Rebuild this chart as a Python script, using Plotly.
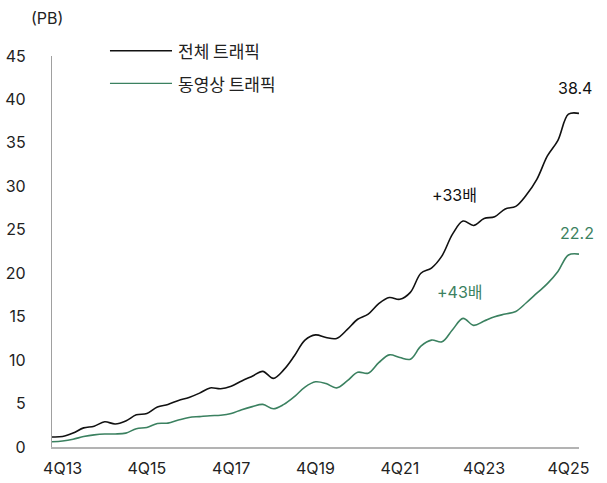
import plotly.graph_objects as go

# quarters 3Q13 .. 1Q26
quarters = ["3Q13", "4Q13",
            "1Q14", "2Q14", "3Q14", "4Q14",
            "1Q15", "2Q15", "3Q15", "4Q15",
            "1Q16", "2Q16", "3Q16", "4Q16",
            "1Q17", "2Q17", "3Q17", "4Q17",
            "1Q18", "2Q18", "3Q18", "4Q18",
            "1Q19", "2Q19", "3Q19", "4Q19",
            "1Q20", "2Q20", "3Q20", "4Q20",
            "1Q21", "2Q21", "3Q21", "4Q21",
            "1Q22", "2Q22", "3Q22", "4Q22",
            "1Q23", "2Q23", "3Q23", "4Q23",
            "1Q24", "2Q24", "3Q24", "4Q24",
            "1Q25", "2Q25", "3Q25", "4Q25",
            "1Q26"]

total_traffic = [1.15, 1.2, 1.6, 2.2, 2.4, 2.9, 2.65, 3.0, 3.7, 3.85,
                 4.6, 4.9, 5.35, 5.7, 6.2, 6.8, 6.7, 7.0, 7.6, 8.15,
                 8.7, 7.9, 8.9, 10.5, 12.3, 12.9, 12.6, 12.5, 13.5, 14.7,
                 15.3, 16.5, 17.2, 17.0, 17.8, 20.0, 20.6, 22.0, 24.5, 26.0,
                 25.5, 26.3, 26.5, 27.4, 27.7, 29.0, 30.8, 33.5, 35.3, 38.3,
                 38.4]

video_traffic = [0.6, 0.7, 0.9, 1.2, 1.4, 1.5, 1.5, 1.6, 2.1, 2.25,
                 2.7, 2.75, 3.1, 3.4, 3.5, 3.6, 3.65, 3.85, 4.3, 4.65,
                 4.9, 4.4, 4.9, 5.8, 6.9, 7.5, 7.3, 6.8, 7.6, 8.6,
                 8.5, 9.7, 10.6, 10.3, 10.1, 11.6, 12.3, 12.1, 13.5, 14.8,
                 14.0, 14.5, 15.0, 15.3, 15.6, 16.6, 17.7, 18.8, 20.2, 22.1,
                 22.2]

x_ticks = ["4Q13", "4Q15", "4Q17", "4Q19", "4Q21", "4Q23", "4Q25"]
y_ticks = [0, 5, 10, 15, 20, 25, 30, 35, 40, 45]

BLACK = "#111111"
GREEN = "#3b8160"
FONT = "Inter, 'Noto Sans CJK KR', sans-serif"
KR_FONT = "'Noto Sans CJK KR', sans-serif"

fig = go.Figure()

fig.add_trace(go.Scatter(x=quarters, y=total_traffic, mode="lines",
                         line=dict(color=BLACK, width=1.6, shape="spline", smoothing=1),
                         name="전체 트래픽", showlegend=False))
fig.add_trace(go.Scatter(x=quarters, y=video_traffic, mode="lines",
                         line=dict(color=GREEN, width=1.6, shape="spline", smoothing=1),
                         name="동영상 트래픽", showlegend=False))

# legend drawn by hand (long sample lines)
for yy, txt, col in [(1.0136, "전체 트래픽", BLACK), (0.930, "동영상 트래픽", GREEN)]:
    fig.add_shape(type="line", xref="paper", yref="paper",
                  x0=0.110, x1=0.2277, y0=yy, y1=yy,
                  line=dict(color=col, width=1.4))
    fig.add_annotation(xref="paper", yref="paper", x=0.236, y=yy, text=txt,
                       showarrow=False, xanchor="left", yanchor="middle",
                       font=dict(family=KR_FONT, size=17, color="#222222"))

# end values
fig.add_annotation(x=quarters[-1], y=total_traffic[-1], text=f"{total_traffic[-1]}",
                   showarrow=False, xshift=-4, yshift=25, font=dict(size=16, color=BLACK))
fig.add_annotation(x=quarters[-1], y=video_traffic[-1], text=f"{video_traffic[-1]}",
                   showarrow=False, xshift=-2, yshift=21, font=dict(size=16, color=GREEN))

# growth multiples
fig.add_annotation(x=38.2, y=29.0, text="+33배", showarrow=False,
                   font=dict(size=16, color=BLACK))
fig.add_annotation(x=38.7, y=17.8, text="+43배", showarrow=False,
                   font=dict(size=16, color=GREEN))

# unit label
fig.add_annotation(xref="paper", yref="paper", x=-0.01, y=1.097, text="(PB)",
                   showarrow=False, xanchor="center", yanchor="middle",
                   font=dict(size=16, color="#222222"))

fig.update_layout(
    width=607, height=483,
    margin=dict(l=52, r=28, t=56, b=36, autoexpand=False),
    paper_bgcolor="white", plot_bgcolor="white",
    font=dict(family=FONT, size=16, color="#222222"),
    showlegend=False,
)
fig.update_xaxes(type="category", range=[0, len(quarters) - 1],
                 tickvals=x_ticks, ticktext=x_ticks, automargin=False,
                 showgrid=False, zeroline=False, showline=True,
                 linecolor="#b3b3b3", linewidth=2, ticks="",
                 ticklabelstandoff=6)
fig.update_yaxes(range=[0, 45], tickvals=y_ticks, automargin=False,
                 showgrid=False, zeroline=False, showline=True,
                 linecolor="#a0a0a0", linewidth=1.2, ticks="",
                 ticklabelstandoff=22)

# page body has a default 8px margin; drop it so the figure sits at the window corner
fig.write_html("out.html", config={"displayModeBar": False},
               post_script="document.body.style.margin='0';")
